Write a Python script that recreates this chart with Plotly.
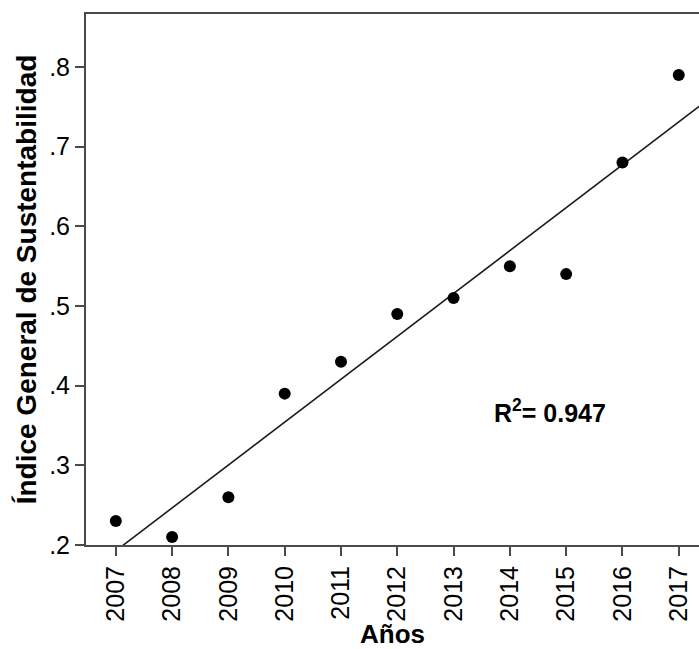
import numpy as np
import plotly.graph_objects as go

# Sustainability index by year
years = [2007, 2008, 2009, 2010, 2011, 2012, 2013, 2014, 2015, 2016, 2017]
index_values = [0.23, 0.21, 0.26, 0.39, 0.43, 0.49, 0.51, 0.55, 0.54, 0.68, 0.79]
y_tick_vals = [0.2, 0.3, 0.4, 0.5, 0.6, 0.7, 0.8]
y_tick_text = [".2", ".3", ".4", ".5", ".6", ".7", ".8"]
r2_label = "R<sup>2</sup>= 0.947"

x_range = [2006.47, 2017.36]
y_range = [0.2, 0.8665]

# Linear least-squares trend
slope, intercept = np.polyfit(years, index_values, 1)
fit_x = np.array([2006.0, 2018.0])
fit_y = slope * fit_x + intercept

font_family = "Liberation Sans, Arial, sans-serif"
axis_color = "#4a4a4a"

fig = go.Figure()
fig.add_trace(go.Scatter(
    x=fit_x, y=fit_y, mode="lines",
    line=dict(color="#1a1a1a", width=1.6),
    showlegend=False, hoverinfo="skip",
))
fig.add_trace(go.Scatter(
    x=years, y=index_values, mode="markers",
    marker=dict(color="black", size=12),
    showlegend=False,
))

fig.add_annotation(
    x=2014.71, y=0.368, xref="x", yref="y",
    text="<b>" + r2_label + "</b>", showarrow=False,
    font=dict(family=font_family, size=25, color="black"),
)

fig.update_xaxes(
    range=x_range, tickmode="array", tickvals=years,
    ticktext=[str(y) for y in years], tickangle=-90,
    ticks="outside", ticklen=9, tickwidth=1.5, tickcolor=axis_color,
    showline=True, linecolor=axis_color, linewidth=2, mirror=True,
    showgrid=False, zeroline=False,
    tickfont=dict(family=font_family, size=25, color="black"),
    title=dict(text="<b>Años</b>", font=dict(family=font_family, size=26, color="black"),
               standoff=10),
)
fig.update_yaxes(
    range=y_range, tickmode="array", tickvals=y_tick_vals, ticktext=y_tick_text,
    ticks="outside", ticklen=9, tickwidth=1.5, tickcolor=axis_color,
    showline=True, linecolor=axis_color, linewidth=2, mirror=False,
    showgrid=False, zeroline=False,
    tickfont=dict(family=font_family, size=25, color="black"),
    title=dict(text="<b>Índice General de Sustentabilidad</b>",
               font=dict(family=font_family, size=28, color="black"), standoff=4),
)

fig.update_layout(
    width=699, height=649,
    margin=dict(l=86, r=0, t=14, b=104, autoexpand=False),
    plot_bgcolor="white", paper_bgcolor="white",
)

fig.write_html("out.html")
